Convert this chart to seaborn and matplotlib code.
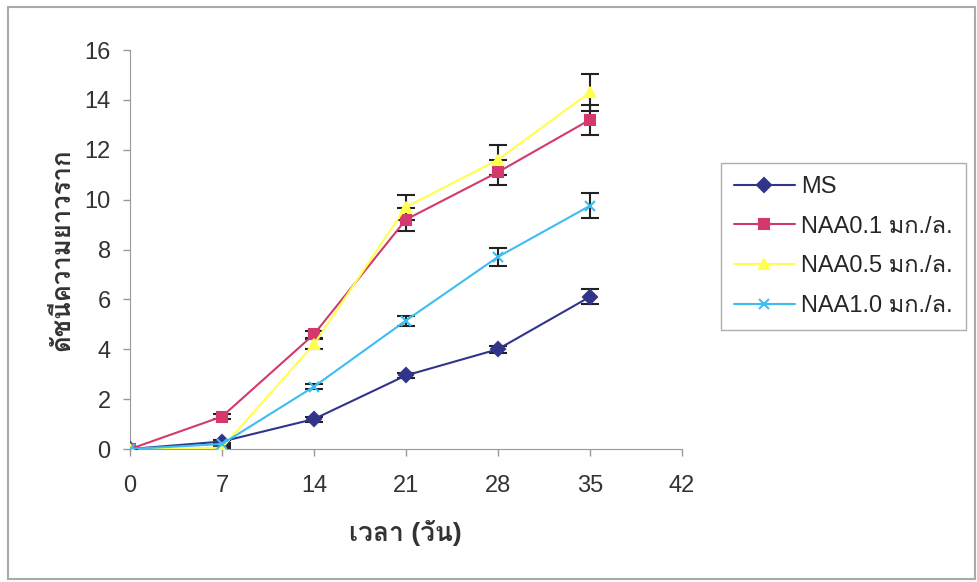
import pandas as pd
import seaborn as sns
import matplotlib.pyplot as plt
from matplotlib import font_manager, ft2font

# data
days = [0, 7, 14, 21, 28, 35]
treatments = ['MS', 'NAA0.1 มก./ล.', 'NAA0.5 มก./ล.', 'NAA1.0 มก./ล.']
ms = [0, 0.3, 1.2, 2.95, 4.0, 6.1]
naa01 = [0, 1.3, 4.6, 9.2, 11.1, 13.2]
naa05 = [0, 0.05, 4.2, 9.7, 11.6, 14.3]
naa10 = [0, 0.2, 2.5, 5.15, 7.7, 9.75]
ms_err = [0, 0.05, 0.1, 0.1, 0.15, 0.3]
naa01_err = [0, 0.1, 0.15, 0.45, 0.5, 0.6]
naa05_err = [0, 0.05, 0.2, 0.5, 0.6, 0.75]
naa10_err = [0, 0.05, 0.1, 0.2, 0.35, 0.5]

colors = ['#30358A', '#D3386F', '#FFFF4D', '#3DBDF0']
markers = ['D', 's', '^', 'x']


# find an installed font that has Thai glyphs
def thai_font():
    for f in font_manager.fontManager.ttflist:
        try:
            cmap = ft2font.FT2Font(f.fname).get_charmap()
        except Exception:
            continue
        if ord('ก') in cmap and ord('ม') in cmap:
            return f.name
    return 'DejaVu Sans'


sns.set_style('white')
plt.rcParams['font.family'] = ['Liberation Sans', thai_font(), 'DejaVu Sans']

values = [ms, naa01, naa05, naa10]
errors = [ms_err, naa01_err, naa05_err, naa10_err]
df = pd.DataFrame({
    'day': days * len(treatments),
    'value': sum(values, []),
    'err': sum(errors, []),
    'treatment': [t for t in treatments for _ in days],
})

fig = plt.figure(figsize=(9.78, 5.82), dpi=100)
ax = fig.add_axes([0.133, 0.2285, 0.564, 0.6855])

# error bars first, then the lines with markers on top
for t, c, m in zip(treatments, colors, markers):
    d = df[df['treatment'] == t]
    ax.errorbar(d['day'], d['value'], yerr=d['err'], fmt='none', ecolor='#222222',
                elinewidth=1.5, capsize=6.5, capthick=1.5, zorder=2)
    sns.lineplot(data=d, x='day', y='value', color=c, marker=m, markersize=7.5,
                 markeredgewidth=1.5, markeredgecolor=c, linewidth=1.5, label=t,
                 ax=ax, zorder=3)

ax.set_xlim(0, 42)
ax.set_ylim(0, 16)
ax.set_xticks(range(0, 43, 7))
ax.set_yticks(range(0, 17, 2))
ax.tick_params(labelsize=17, colors='#333333', length=5, width=1, direction='out',
               bottom=True, left=True)
ax.tick_params(axis='x', pad=14)
ax.tick_params(axis='y', pad=9)
for s in ['top', 'right']:
    ax.spines[s].set_visible(False)
for s in ['left', 'bottom']:
    ax.spines[s].set_color('#999999')
ax.tick_params(axis='both', color='#999999')
ax.set_xlabel('เวลา (วัน)', fontsize=19, fontweight='bold', color='#333333', labelpad=16)
ax.set_ylabel('ดัชนีความยาวราก', fontsize=18.5, fontweight='bold', color='#333333', labelpad=7)

ax.legend(loc='upper left', bbox_to_anchor=(0.737, 0.72),
          bbox_transform=fig.transFigure, fontsize=17, frameon=True, fancybox=False,
          edgecolor='#999999', handlelength=2.6, borderpad=0.55, labelspacing=0.75,
          handletextpad=0.25, borderaxespad=0)

# grey frame around the whole chart
fig.patches.append(plt.Rectangle((0.008, 0.005), 0.989, 0.983, transform=fig.transFigure,
                                 fill=False, edgecolor='#aaaaaa', linewidth=1.5))

fig.savefig('out.png', dpi=100)
